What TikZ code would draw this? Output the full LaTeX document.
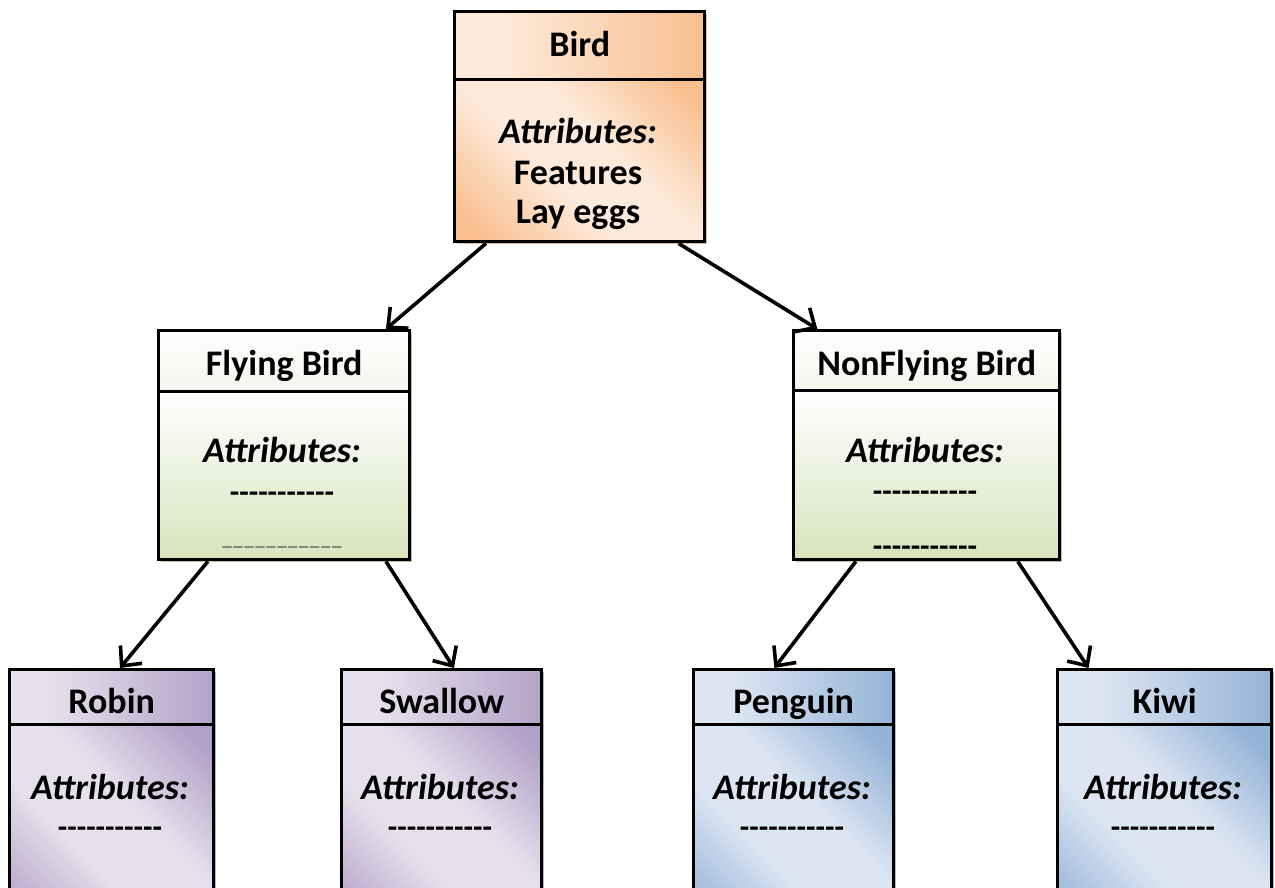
\documentclass[tikz,border=0pt]{standalone}
\usepackage{fontspec}
\setmainfont{Carlito}[Ligatures=TeXOff]
\usetikzlibrary{arrows.meta,calc}

% colour schemes: light / dark tone and shadow tint
\definecolor{orgL}{HTML}{FDEADA}
\definecolor{orgD}{HTML}{F9BF8F}
\definecolor{orgS}{HTML}{DDBB9B}
\definecolor{grnL}{HTML}{FFFFFF}
\definecolor{grnM}{HTML}{F3F7EC}
\definecolor{grnD}{HTML}{D7E4BD}
\definecolor{grnS}{HTML}{BCC4A8}
\definecolor{purL}{HTML}{E6E0EC}
\definecolor{purD}{HTML}{B3A2C7}
\definecolor{purS}{HTML}{B5B2BF}
\definecolor{bluL}{HTML}{DCE6F2}
\definecolor{bluD}{HTML}{95B3D7}
\definecolor{bluS}{HTML}{B2B9C6}

% header shadings: light on the left, darker towards the right
\pgfdeclarehorizontalshading{orgHead}{100bp}{color(0bp)=(orgL); color(35bp)=(orgL); color(75bp)=(orgD); color(100bp)=(orgD)}
\pgfdeclarehorizontalshading{purHead}{100bp}{color(0bp)=(purL); color(35bp)=(purL); color(75bp)=(purD); color(100bp)=(purD)}
\pgfdeclarehorizontalshading{bluHead}{100bp}{color(0bp)=(bluL); color(35bp)=(bluL); color(75bp)=(bluD); color(100bp)=(bluD)}
% body shadings: dark corners, light diagonal band
\pgfdeclarehorizontalshading{orgBody}{100bp}{color(0bp)=(orgD); color(20bp)=(orgD); color(42bp)=(orgL); color(58bp)=(orgL); color(80bp)=(orgD); color(100bp)=(orgD)}
\pgfdeclarehorizontalshading{purBody}{100bp}{color(0bp)=(purD); color(20bp)=(purD); color(42bp)=(purL); color(58bp)=(purL); color(80bp)=(purD); color(100bp)=(purD)}
\pgfdeclarehorizontalshading{bluBody}{100bp}{color(0bp)=(bluD); color(20bp)=(bluD); color(42bp)=(bluL); color(58bp)=(bluL); color(80bp)=(bluD); color(100bp)=(bluD)}
% green: vertical fade
\pgfdeclareverticalshading{grnHead}{100bp}{color(0bp)=(grnM); color(25bp)=(grnM); color(75bp)=(grnL); color(100bp)=(grnL)}
\pgfdeclareverticalshading{grnBody}{100bp}{color(0bp)=(grnD); color(25bp)=(grnD); color(75bp)=(grnL); color(100bp)=(grnL)}

\tikzset{
  frame/.style={draw=black, line width=3.4pt, rectangle, inner sep=0pt, anchor=north west},
  shadowbox/.style={rectangle, inner sep=0pt, anchor=north west, draw=none},
  head org/.style={shading=orgHead, shading angle=0},
  head pur/.style={shading=purHead, shading angle=0},
  head blu/.style={shading=bluHead, shading angle=0},
  head grn/.style={shading=grnHead, shading angle=0},
  body org/.style={shading=orgBody, shading angle=45},
  body pur/.style={shading=purBody, shading angle=45},
  body blu/.style={shading=bluBody, shading angle=45},
  body grn/.style={shading=grnBody, shading angle=0},
  title/.style={font=\fontsize{36}{42}\selectfont\bfseries, inner sep=0pt, anchor=base},
  attr/.style={font=\fontsize{36}{42}\selectfont\bfseries\itshape, inner sep=0pt, anchor=base},
  plain/.style={font=\fontsize{36}{42}\selectfont\bfseries, inner sep=0pt, anchor=base},
  dashes/.style={font=\fontsize{31}{36}\selectfont\bfseries, inner sep=0pt, anchor=base},
  thin/.style={font=\fontsize{19}{22}\selectfont, text=black!75, inner sep=0pt, anchor=base},
  link/.style={line width=3.6pt, -{Straight Barb[length=15pt,width=28pt]}},
}

% #1 name, #2 x, #3 y, #4 width, #5 header height, #6 body height, #7 scheme, #8 title, #9 title baseline
\newcommand{\umlclass}[9]{%
  \node[shadowbox, fill=#7S, minimum width=#4pt, minimum height={#5pt+#6pt}] (#1S) at (#2+4,#3+4) {};
  \node[frame, head #7, minimum width=#4pt, minimum height=#5pt] (#1H) at (#2,#3) {};
  \node[frame, body #7, minimum width=#4pt, minimum height=#6pt] (#1B) at (#2,#3+#5) {};
  \node[title] (#1T) at ($(#1H.north)+(0,#9)$) {#8};
}
% short underline segments with small gaps
\newcommand{\gapbar}{\_\hspace{1.5pt}}

\begin{document}
\begin{tikzpicture}[x=1pt, y=-1pt]
\useasboundingbox (0,0) rectangle (1275,888);

\umlclass{bird}{453}{10}{250}{68}{162}{org}{Bird}{47}
\umlclass{fly}{157}{329}{251}{61}{168}{grn}{Flying Bird}{46}
\umlclass{non}{792}{329}{266}{60}{169}{grn}{NonFlying Bird}{46}
\umlclass{rob}{8}{668}{204}{55}{218}{pur}{Robin}{45}
\umlclass{swa}{340}{668}{200}{55}{218}{pur}{Swallow}{45}
\umlclass{pen}{692}{668}{200}{55}{218}{blu}{Penguin}{45}
\umlclass{kiw}{1056}{668}{214}{55}{218}{blu}{Kiwi}{45}

% attribute compartments
\node[attr] (birdA) at (578,144) {Attributes:};
\node[plain] (birdF) at (578,185) {Features};
\node[plain] (birdE) at (578,223) {Lay eggs};

\node[attr] (flyA) at (282,462) {Attributes:};
\node[dashes] (flyD) at (282,502) {-----------};
\node[thin] (flyE) at (282,545) {\gapbar\gapbar\gapbar\gapbar\gapbar\gapbar\gapbar\gapbar\gapbar\gapbar\_};

\node[attr] (nonA) at (925,462) {Attributes:};
\node[dashes] (nonD) at (925,501) {-----------};
\node[dashes] (nonE) at (925,556) {-----------};

\node[attr] (robA) at (110,799) {Attributes:};
\node[dashes] (robD) at (110,837) {-----------};
\node[attr] (swaA) at (440,799) {Attributes:};
\node[dashes] (swaD) at (440,837) {-----------};
\node[attr] (penA) at (792,799) {Attributes:};
\node[dashes] (penD) at (792,837) {-----------};
\node[attr] (kiwA) at (1163,799) {Attributes:};
\node[dashes] (kiwD) at (1163,837) {-----------};

% inheritance links
\draw[link] ($(birdB.south west)!0.13!(birdB.south east)$) -- ($(flyH.north west)!0.90!(flyH.north east)$);
\draw[link] ($(birdB.south west)!0.89!(birdB.south east)$) -- ($(nonH.north west)!0.094!(nonH.north east)$);
\draw[link] ($(flyB.south west)!0.20!(flyB.south east)$) -- ($(robH.north west)!0.54!(robH.north east)$);
\draw[link] ($(flyB.south west)!0.90!(flyB.south east)$) -- ($(swaH.north west)!0.56!(swaH.north east)$);
\draw[link] ($(nonB.south west)!0.237!(nonB.south east)$) -- ($(penH.north west)!0.405!(penH.north east)$);
\draw[link] ($(nonB.south west)!0.838!(nonB.south east)$) -- ($(kiwH.north west)!0.15!(kiwH.north east)$);
\end{tikzpicture}
\end{document}
